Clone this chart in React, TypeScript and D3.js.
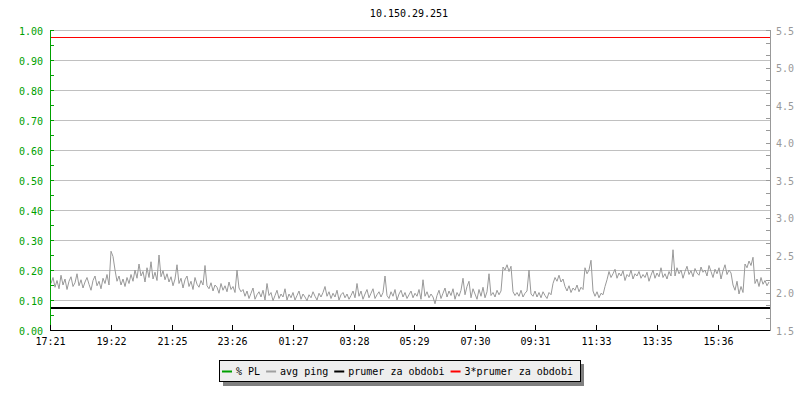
import React from "react";
import * as d3 from "d3";

const titleText = "10.150.29.251";
const startClock = "17:21";
const spanMinutes = 1440;
const sampleMinutes = 4;
const xTickLabels = ["17:21", "19:22", "21:25", "23:26", "01:27", "03:28", "05:29", "07:30", "09:31", "11:33", "13:35", "15:36"];
const leftTickValues = [0, 0.1, 0.2, 0.3, 0.4, 0.5, 0.6, 0.7, 0.8, 0.9, 1.0];
const rightTickValues = [1.5, 2.0, 2.5, 3.0, 3.5, 4.0, 4.5, 5.0, 5.5];
const leftDomain = [0, 1];
const rightDomain = [1.5, 5.5];
const prumer = 1.8;
const triplePrumer = 5.4;
const legendLabels = ["% PL", "avg ping", "prumer za obdobi", "3*prumer za obdobi"];
const legendColors = ["#00a000", "#a0a0a0", "#000000", "#ff0000"];

// avg ping [ms], one value every 4 minutes from 17:21
const avgPing = [
  2.12, 2.20, 2.07, 2.16, 2.05, 2.23, 2.10, 2.18, 2.04, 2.15, 2.21, 2.08, 2.13, 2.25, 2.09, 2.17, 2.06, 2.14, 2.20, 2.11,
  2.03, 2.16, 2.22, 2.09, 2.15, 2.05, 2.19, 2.12, 2.24, 2.10,
  2.55, 2.48, 2.30,
  2.15, 2.22, 2.10, 2.18, 2.08, 2.20, 2.12,
  2.24, 2.15, 2.30, 2.19, 2.38, 2.22, 2.28, 2.14, 2.33, 2.20, 2.41, 2.18, 2.27, 2.16, 2.50, 2.21, 2.29, 2.17, 2.25,
  2.14, 2.21, 2.09, 2.18, 2.37, 2.12, 2.19, 2.06, 2.17, 2.22, 2.08, 2.15, 2.04, 2.20, 2.11, 2.07, 2.16, 2.10, 2.36, 2.09,
  2.05, 2.13, 2.02, 2.10, 2.07, 1.99, 2.12, 2.03, 2.09, 2.01, 2.14, 2.04, 2.08, 2.00, 2.30, 2.06, 2.01,
  2.04, 1.95, 2.02, 1.92, 1.99, 2.06, 1.91, 1.97, 2.01, 1.94, 2.03, 1.90, 2.12, 1.96, 2.00, 1.89, 1.96, 2.03, 1.92, 1.98,
  1.94, 2.05, 1.90, 1.98,
  1.93, 2.00, 1.90, 1.96, 2.02, 1.91, 1.98, 1.94, 1.89, 1.97,
  1.93, 2.01, 1.95, 1.90, 1.99, 1.94, 2.00, 2.08, 1.95, 2.01,
  1.92, 1.99, 1.94, 2.03, 1.90, 1.97, 2.00, 1.93, 1.98, 1.91,
  1.96, 2.02, 1.93, 2.12, 1.95, 2.02, 1.91, 1.98, 2.04, 1.93,
  1.99, 2.05, 1.92, 1.97, 2.01, 1.94, 2.00, 2.22, 1.96, 1.92,
  2.01, 1.95, 2.04, 1.90, 1.98, 2.03, 1.94, 2.00, 1.92, 1.97,
  2.02, 1.93, 1.99, 1.95, 2.04, 1.91, 2.17, 1.95, 2.01, 1.93,
  1.98, 1.94, 1.85, 1.96, 2.03, 1.92, 1.99, 2.06, 1.94, 2.02,
  1.96, 2.05, 1.91, 2.00, 1.95, 2.03, 2.19, 1.97, 2.08, 2.15,
  1.93, 2.05, 1.98, 1.91, 2.04, 1.95, 2.07, 1.93, 2.01, 2.25,
  1.96, 2.00, 1.94, 2.03, 1.97,
  2.02, 2.34, 2.30, 2.37, 2.28, 2.35,
  2.01, 1.96, 2.00, 1.95, 2.03, 1.94, 1.99, 2.02, 2.30, 1.98, 1.95, 2.02, 1.94, 2.00, 1.93, 2.01, 1.96, 1.92, 2.00, 1.97,
  2.12, 2.20, 2.15, 2.23, 2.14, 2.18,
  2.08, 2.02, 2.09, 2.00, 2.06, 2.03, 2.10, 2.01, 2.07, 2.04,
  2.33, 2.25, 2.30, 2.43,
  2.02, 1.95, 2.01, 1.93, 1.99, 1.97, 2.08,
  2.17, 2.28, 2.20, 2.25, 2.31, 2.19, 2.26, 2.22, 2.29, 2.16, 2.24, 2.21, 2.30, 2.18, 2.25, 2.22, 2.28, 2.19, 2.24, 2.20,
  2.27, 2.15, 2.23, 2.30, 2.19, 2.26, 2.21, 2.33, 2.20, 2.25, 2.18, 2.28, 2.22,
  2.57,
  2.22, 2.33, 2.25, 2.30, 2.19, 2.28, 2.35, 2.24, 2.29, 2.21, 2.32, 2.26, 2.23, 2.34, 2.27, 2.30, 2.22, 2.36, 2.28, 2.20,
  2.31, 2.25, 2.33, 2.18, 2.29, 2.37, 2.24, 2.30, 2.26,
  2.10, 2.03, 2.15, 1.98, 2.08, 2.00,
  2.38, 2.33, 2.42, 2.36, 2.47,
  2.12, 2.18, 2.08, 2.20, 2.11, 2.16, 2.09, 2.14,
];

const W = 800;
const H = 400;
const plotLeft = 51;
const plotRight = 771;
const plotTop = 30;
const plotBottom = 330;
const FONT = "'DejaVu Sans Mono', monospace";

function clockOffset(label: string): number {
  const [h, m] = label.split(":").map(Number);
  const [sh, sm] = startClock.split(":").map(Number);
  let d = h * 60 + m - (sh * 60 + sm);
  if (d < 0) d += 1440;
  return d;
}

export default function App() {
  const x = d3.scaleLinear().domain([0, spanMinutes]).range([plotLeft, plotRight]);
  const yL = d3.scaleLinear().domain(leftDomain).range([plotBottom, plotTop]);
  const yR = d3.scaleLinear().domain(rightDomain).range([plotBottom, plotTop]);

  const line = d3
    .line<number>()
    .x((_, i) => x(i * sampleMinutes))
    .y((d) => yR(d));

  const leftMinor = d3.range(0, 1.0001, 0.05);
  const rightMinor = d3.range(1.5, 5.5001, 0.5 / 3);
  const axisRight = plotRight - 1;

  const charW = 6.02;
  const legendItems: { x0: number; tx: number; label: string; color: string }[] = [];
  let cx = 222;
  legendLabels.forEach((label, i) => {
    legendItems.push({ x0: cx, tx: cx + 14, label, color: legendColors[i] });
    cx = cx + 14 + label.length * charW + 6;
  });

  const yPrumer = Math.round(yR(prumer));
  const yTriple = Math.round(yR(triplePrumer)) + 0.5;

  return (
    <svg
      width={W}
      height={H}
      style={{ position: "absolute", left: 0, top: 0, background: "#fff" }}
      fontFamily={FONT}
      fontSize={10}
    >
      <rect x={0} y={0} width={W} height={H} fill="#fff" />
      <text x={(plotLeft + plotRight) / 2 - 2} y={17} textAnchor="middle" fill="#000">
        {titleText}
      </text>

      {leftTickValues.filter((v) => v > 0).map((v) => (
        <line key={"g" + v} x1={plotLeft} x2={axisRight} y1={Math.round(yL(v)) + 0.5} y2={Math.round(yL(v)) + 0.5} stroke="#c0c0c0" />
      ))}

      <path d={line(avgPing) || ""} fill="none" stroke="#999999" strokeWidth={1} />

      <line x1={plotLeft} x2={axisRight} y1={yPrumer} y2={yPrumer} stroke="#000" strokeWidth={2} />
      <line x1={plotLeft} x2={axisRight} y1={yTriple} y2={yTriple} stroke="#ff0000" strokeWidth={1} />

      <line x1={plotLeft - 0.5} x2={plotLeft - 0.5} y1={plotTop} y2={plotBottom} stroke="#00a000" />
      {leftMinor.map((v, i) => (
        <line key={"lm" + i} x1={plotLeft - 1} x2={plotLeft + 3} y1={Math.round(yL(v)) + 0.5} y2={Math.round(yL(v)) + 0.5} stroke="#00a000" />
      ))}
      {leftTickValues.map((v) => (
        <text key={"lt" + v} x={43} y={yL(v) + 4.5} textAnchor="end" fill="#00a000">
          {v.toFixed(2)}
        </text>
      ))}

      <line x1={axisRight + 0.5} x2={axisRight + 0.5} y1={plotTop} y2={plotBottom} stroke="#999999" />
      {rightMinor.map((v, i) => (
        <line key={"rm" + i} x1={axisRight - 4} x2={axisRight + 1} y1={Math.round(yR(v)) + 0.5} y2={Math.round(yR(v)) + 0.5} stroke="#999999" />
      ))}
      {rightTickValues.map((v) => (
        <text key={"rt" + v} x={776} y={yR(v) + 4.5} textAnchor="start" fill="#999999">
          {v.toFixed(1)}
        </text>
      ))}

      <line x1={plotLeft - 1} x2={axisRight} y1={plotBottom + 0.5} y2={plotBottom + 0.5} stroke="#000" />
      {xTickLabels.map((lab) => {
        const px = Math.round(x(clockOffset(lab))) - 0.5;
        return (
          <g key={"xt" + lab}>
            <line x1={px} x2={px} y1={plotBottom - 5} y2={plotBottom} stroke="#000" />
            <text x={px} y={345} textAnchor="middle" fill="#000">
              {lab}
            </text>
          </g>
        );
      })}

      <rect x={223} y={364} width={361} height={22} fill="#808080" />
      <rect x={219.5} y={360.5} width={361} height={21} fill="#eeeeee" stroke="#000" />
      {legendItems.map((it) => (
        <g key={"lg" + it.label}>
          <line x1={it.x0} x2={it.x0 + 10} y1={371.5} y2={371.5} stroke={it.color} strokeWidth={2} />
          <text x={it.tx} y={375} fill="#000">
            {it.label}
          </text>
        </g>
      ))}
    </svg>
  );
}
